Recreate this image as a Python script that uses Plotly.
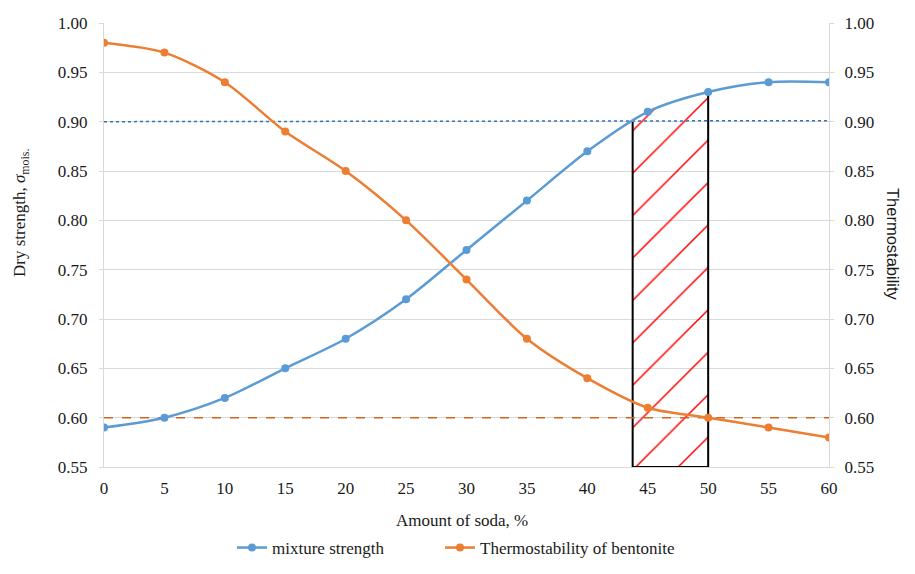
import plotly.graph_objects as go

soda = [0, 5, 10, 15, 20, 25, 30, 35, 40, 45, 50, 55, 60]
mixture_strength = [0.59, 0.60, 0.62, 0.65, 0.68, 0.72, 0.77, 0.82, 0.87, 0.91, 0.93, 0.94, 0.94]
thermostability = [0.98, 0.97, 0.94, 0.89, 0.85, 0.80, 0.74, 0.68, 0.64, 0.61, 0.60, 0.59, 0.58]
strength_level = 0.90
thermo_level = 0.60
zone_end = 50
y_ticks = [0.55, 0.60, 0.65, 0.70, 0.75, 0.80, 0.85, 0.90, 0.95, 1.00]

BLUE = "#5B9BD5"
ORANGE = "#ED7D31"
SERIF = "'Liberation Serif', 'Times New Roman', Times, 'DejaVu Serif', serif"
SANS = "'Liberation Sans', Arial, sans-serif"
GRID = "#d9d9d9"
TXT = "#1a1a1a"

# zone start: where strength curve reaches the required level
zone_start = None
for i in range(1, len(soda)):
    if mixture_strength[i - 1] < strength_level <= mixture_strength[i]:
        f = (strength_level - mixture_strength[i - 1]) / (mixture_strength[i] - mixture_strength[i - 1])
        zone_start = soda[i - 1] + f * (soda[i] - soda[i - 1])
        break
ymin = y_ticks[0]

top_pts = [(zone_start, strength_level)] + [(x, y) for x, y in zip(soda, mixture_strength) if zone_start < x <= zone_end]
hx = [zone_start] + [p[0] for p in top_pts] + [zone_end, zone_start]
hy = [ymin] + [p[1] for p in top_pts] + [ymin, ymin]

fig = go.Figure()

fig.add_trace(go.Scatter(
    x=hx, y=hy, mode="none", fill="toself",
    fillcolor="rgba(0,0,0,0)",
    fillpattern=dict(shape="/", fgcolor="#ff0000", fgopacity=1, bgcolor="rgba(0,0,0,0)",
                     size=30, solidity=0.05),
    showlegend=False, hoverinfo="skip"))

fig.add_trace(go.Scatter(
    x=[zone_start, zone_start, zone_end, zone_end],
    y=[strength_level, ymin, ymin, top_pts[-1][1]],
    mode="lines", line=dict(color="black", width=2),
    showlegend=False, hoverinfo="skip"))

fig.add_trace(go.Scatter(
    x=[soda[0], soda[-1]], y=[strength_level, strength_level + 0.001],
    mode="lines", line=dict(color="#2E75B6", width=1.5, dash="dot"),
    showlegend=False, hoverinfo="skip"))

fig.add_trace(go.Scatter(
    x=[soda[0], soda[-1]], y=[thermo_level, thermo_level],
    mode="lines", line=dict(color="#D0651F", width=1.5, dash="dash"),
    showlegend=False, hoverinfo="skip"))

fig.add_trace(go.Scatter(
    x=soda, y=mixture_strength, name="mixture strength", legend="legend",
    mode="lines+markers", line=dict(color=BLUE, width=2.5, shape="spline", smoothing=0.8),
    marker=dict(color=BLUE, size=8)))

fig.add_trace(go.Scatter(
    x=soda, y=thermostability, name="Thermostability of bentonite", yaxis="y2", legend="legend2",
    mode="lines+markers", line=dict(color=ORANGE, width=2.5, shape="spline", smoothing=0.8),
    marker=dict(color=ORANGE, size=8)))

# page body has an 8px offset; work in screen pixels and convert
OFF = 8
W, H = 915 - OFF, 574 - OFF
L, T = 104 - OFF, 23 - OFF
R = W - (829 - OFF)
B = H - (467 - OFF)
pw, ph = W - L - R, H - T - B

def px(xs):
    return (xs - OFF - L) / pw

def py(ys):
    return (H - B - (ys - OFF)) / ph

tick_text = ["%.2f" % v for v in y_ticks]
tickfont = dict(family=SERIF, size=17, color=TXT)
legfont = dict(family=SERIF, size=17, color=TXT)

fig.update_layout(
    width=W, height=H,
    margin=dict(l=L, r=R, t=T, b=B, autoexpand=False),
    paper_bgcolor="white", plot_bgcolor="white",
    font=dict(family=SERIF, size=17, color=TXT),
    xaxis=dict(range=[0, 60], tickvals=soda, showgrid=False, zeroline=False,
               showline=True, linecolor=GRID, linewidth=1, ticks="",
               ticklabelstandoff=6, tickfont=tickfont),
    yaxis=dict(range=[0.55, 1.0], tickvals=y_ticks, ticktext=tick_text,
               showgrid=True, gridcolor=GRID, gridwidth=1, zeroline=False,
               showline=True, linecolor=GRID, linewidth=1,
               ticks="outside", ticklen=4, tickcolor=GRID,
               ticklabelstandoff=8, tickfont=tickfont),
    yaxis2=dict(range=[0.55, 1.0], tickvals=y_ticks, ticktext=tick_text,
                overlaying="y", side="right", showgrid=False, zeroline=False,
                showline=True, linecolor=GRID, linewidth=1,
                ticks="outside", ticklen=4, tickcolor=GRID,
                ticklabelstandoff=7, tickfont=tickfont),
    legend=dict(orientation="h", x=px(232), xanchor="left", y=py(548), yanchor="middle",
                font=legfont, itemwidth=30, bgcolor="rgba(0,0,0,0)"),
    legend2=dict(orientation="h", x=px(440), xanchor="left", y=py(548), yanchor="middle",
                 font=legfont, itemwidth=30, bgcolor="rgba(0,0,0,0)"),
    annotations=[
        dict(text="Amount of soda, %", x=px(462), y=py(520), xref="paper", yref="paper",
             showarrow=False, font=dict(family=SERIF, size=17, color=TXT),
             xanchor="center", yanchor="middle"),
        dict(text="Dry strength, <i>σ</i><sub>mois.</sub>", x=px(21), y=py(213), xref="paper", yref="paper",
             showarrow=False, textangle=-90, font=dict(family=SERIF, size=17, color=TXT),
             xanchor="center", yanchor="middle"),
        dict(text="Thermostability", x=px(893), y=py(245), xref="paper", yref="paper",
             showarrow=False, textangle=90, font=dict(family=SANS, size=16.5, color=TXT),
             xanchor="center", yanchor="middle"),
    ],
    shapes=[
        dict(type="line", xref="paper", yref="paper", x0=px(5), x1=px(913), y0=py(6), y1=py(6),
             line=dict(color="#e6e6e6", width=1.5)),
        dict(type="line", xref="paper", yref="paper", x0=px(6), x1=px(6), y0=py(6), y1=py(572),
             line=dict(color="#e6e6e6", width=1.5)),
    ],
)

fig.write_html("out.html")
